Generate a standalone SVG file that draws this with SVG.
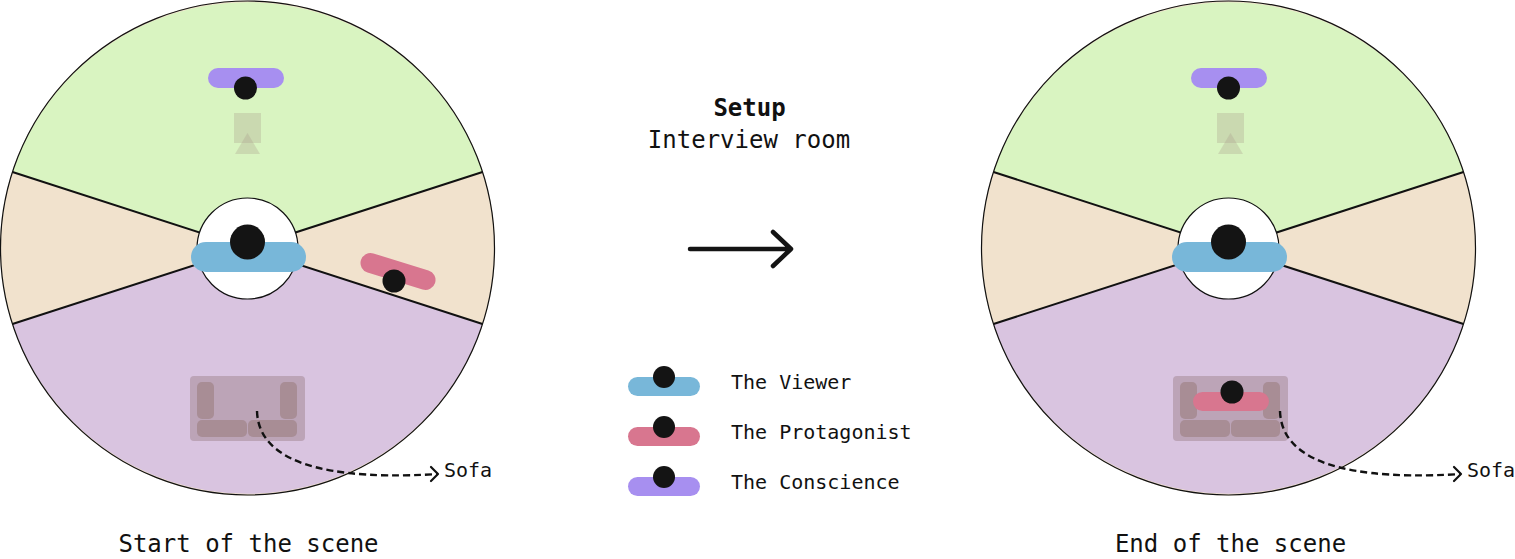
<svg xmlns="http://www.w3.org/2000/svg" width="1515" height="559" viewBox="0 0 1515 559">
<style>
text{font-family:"DejaVu Sans Mono","Liberation Mono",monospace;fill:#111;font-size:20px}
.big{font-size:24px}
.div{stroke:#111;stroke-width:2;fill:none}
.dot{fill:#141414}
.blue{fill:#78b7d9}.pink{fill:#d8768f}.purple{fill:#a78ff0}
.seat{fill:#7a5a5a;fill-opacity:.3}
.cush{fill:#7a5a4a;fill-opacity:.3}
.ghost{fill:#a89a8a;fill-opacity:.3}
.dash{fill:none;stroke:#111;stroke-width:2.4;stroke-dasharray:7 4}
.head{fill:none;stroke:#111;stroke-width:2.2;stroke-linecap:round;stroke-linejoin:round}
</style>
<defs>
<g id="room">
<circle cx="0" cy="0" r="247.5" fill="#f1e2cd"/>
<path d="M-235,-76 A247.5,247.5 0 0 1 235,-76 L0,0 Z" fill="#d9f4c1"/>
<path d="M-235,76 A247.5,247.5 0 0 0 235,76 L0,0 Z" fill="#d9c4e0"/>
<path class="div" d="M-235,-76 L235,76 M235,-76 L-235,76"/>
<circle cx="0" cy="0" r="247" fill="none" stroke="#111" stroke-width="1.200"/>
<circle cx="0" cy="0.500" r="50.500" fill="#fff" stroke="#111" stroke-width="1.200"/>
<rect class="blue" x="-56.500" y="-6" width="115" height="30" rx="15"/>
<circle class="dot" cx="0" cy="-6" r="17.500"/>
</g>
<g id="furniture">
<rect class="ghost" x="-13.500" y="-135" width="27" height="30"/>
<path class="ghost" d="M0,-115 L12.500,-94 L-12.500,-94 Z"/>
<rect class="seat" x="-57.500" y="128" width="115" height="65" rx="4"/>
<rect class="cush" x="-50.500" y="134" width="17" height="37" rx="5"/>
<rect class="cush" x="32.500" y="134" width="17" height="37" rx="5"/>
<rect class="cush" x="-50.500" y="172" width="50" height="17" rx="5"/>
<rect class="cush" x="0.500" y="172" width="49" height="17" rx="5"/>
</g>
<g id="chip"><rect x="0" y="0" width="72" height="19" rx="9.500"/><circle class="dot" cx="36" cy="0" r="11"/></g>
</defs>

<g id="scene-start">
<use href="#room" x="247.500" y="248"/>
<use href="#furniture" x="247.500" y="248"/>
<rect class="purple" x="208" y="68" width="76" height="20" rx="10"/>
<circle class="dot" cx="245.500" cy="88" r="11.500"/>
<line x1="370.500" y1="263" x2="425.500" y2="280" stroke="#d8768f" stroke-width="20" stroke-linecap="round"/>
<circle class="dot" cx="394" cy="281" r="11.500"/>
</g>

<g id="scene-end">
<use href="#room" x="1228.500" y="248"/>
<use href="#furniture" x="1230.500" y="248"/>
<rect class="purple" x="1191" y="68" width="76" height="20" rx="10"/>
<circle class="dot" cx="1228.500" cy="88" r="11.500"/>
<rect class="pink" x="1193" y="392" width="76" height="19" rx="9.500"/>
<circle class="dot" cx="1232" cy="392" r="11.500"/>
</g>

<g id="connectors">
<path class="dash" d="M257,411 C258,447 292,483 438,474"/>
<path class="head" d="M431,467 L438,474 L431,481"/>
<path class="dash" d="M1280,411 C1281,447 1315,483 1461,474"/>
<path class="head" d="M1454,467 L1461,474 L1454,481"/>
<path d="M690,249 H790 M773,232 L791,249 L773,266" fill="none" stroke="#141414" stroke-width="4.500" stroke-linecap="round" stroke-linejoin="round"/>
</g>

<g id="legend">
<use href="#chip" class="blue" x="628" y="377"/>
<use href="#chip" class="pink" x="628" y="427"/>
<use href="#chip" class="purple" x="628" y="477"/>
<text x="731" y="389">The Viewer</text>
<text x="731" y="439">The Protagonist</text>
<text x="731" y="489">The Conscience</text>
</g>

<g id="labels">
<text x="749.500" y="116" class="big" text-anchor="middle" font-weight="700">Setup</text>
<text x="749" y="148" class="big" text-anchor="middle">Interview room</text>
<text x="444" y="477">Sofa</text>
<text x="1467" y="477">Sofa</text>
<text x="248.500" y="552" class="big" text-anchor="middle">Start of the scene</text>
<text x="1230.500" y="552" class="big" text-anchor="middle">End of the scene</text>
</g>
</svg>
